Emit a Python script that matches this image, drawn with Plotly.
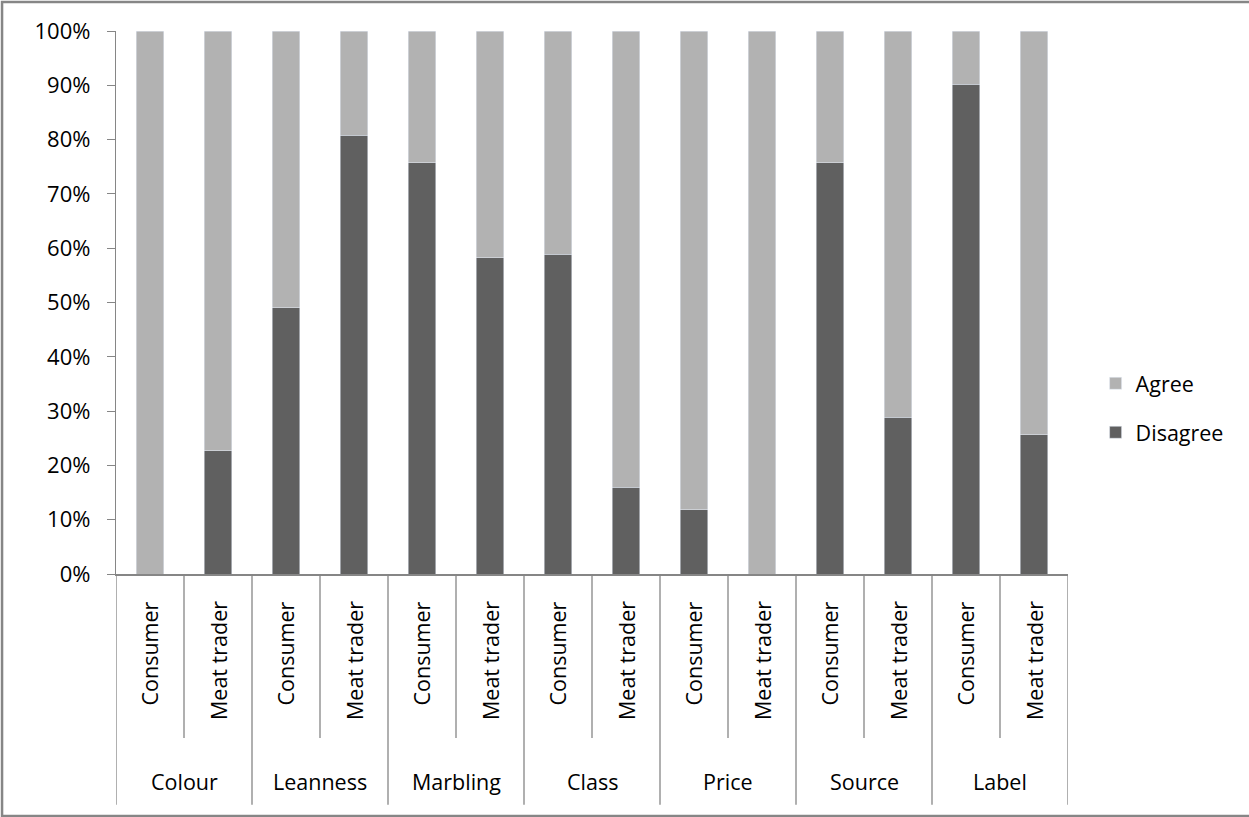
import plotly.graph_objects as go

# Attributes and respondent groups
attributes = ["Colour", "Leanness", "Marbling", "Class", "Price", "Source", "Label"]
respondents = ["Consumer", "Meat trader"]

# Share of respondents (%) per attribute, ordered Consumer, Meat trader
disagree = [0.0, 22.7, 49.0, 80.8, 75.7, 58.2, 58.9, 16.0, 11.8, 0.0, 75.7, 28.9, 90.2, 25.6]
agree = [round(100 - d, 1) for d in disagree]

y_ticks = [0, 10, 20, 30, 40, 50, 60, 70, 80, 90, 100]
y_tick_labels = [f"{t}%" for t in y_ticks]

AGREE_COLOR = "#b2b2b2"
DISAGREE_COLOR = "#606060"
LINE_COLOR = "#868686"
FONT = "Open Sans, Noto Sans, sans-serif"

n = len(attributes) * len(respondents)
xpos = list(range(n))
sub_labels = [r for _ in attributes for r in respondents]

fig = go.Figure()
fig.add_trace(go.Bar(x=xpos, y=disagree, name="Disagree", marker_color=DISAGREE_COLOR,
                     width=0.4, legendgroup="d", legendrank=2))
fig.add_trace(go.Bar(x=xpos, y=agree, name="Agree", marker_color=AGREE_COLOR,
                     width=0.4, legendgroup="a", legendrank=1))

shapes = []
annotations = []

# Category separators below the axis: short between respondents, long between attributes
for i in range(n + 1):
    boundary = i - 0.5
    long_line = (i % 2 == 0)
    shapes.append(dict(type="line", xref="x", yref="paper", x0=boundary, x1=boundary,
                       y0=0, y1=-0.425 if long_line else -0.302,
                       line=dict(color=LINE_COLOR, width=1.3)))

# Respondent labels, rotated
for i, lab in enumerate(sub_labels):
    annotations.append(dict(x=xpos[i], y=-0.047, xref="x", yref="paper", text=lab,
                            textangle=-90, showarrow=False, xanchor="center", yanchor="top",
                            font=dict(family=FONT, size=21.5, color="#000000")))

# Attribute labels
for g, name in enumerate(attributes):
    annotations.append(dict(x=2 * g + 0.5, y=-0.383, xref="x", yref="paper", text=name,
                            showarrow=False, xanchor="center", yanchor="middle",
                            font=dict(family=FONT, size=21.5, color="#000000")))

# Chart-area frame
shapes.append(dict(type="rect", xref="paper", yref="paper", x0=-0.1197, x1=1.21,
                   y0=-0.4457, y1=1.0534, line=dict(color=LINE_COLOR, width=2.5),
                   fillcolor="rgba(0,0,0,0)", layer="below"))

fig.update_layout(
    barmode="stack",
    width=1249, height=817,
    margin=dict(l=116, r=181, t=31, b=243),
    paper_bgcolor="white", plot_bgcolor="white",
    font=dict(family=FONT, size=20, color="#000000"),
    shapes=shapes,
    annotations=annotations,
    legend=dict(x=1.029, y=0.306, xanchor="left", yanchor="middle",
                traceorder="grouped", tracegroupgap=18,
                font=dict(family=FONT, size=21.5, color="#000000"),
                itemwidth=30),
    showlegend=True,
)
fig.update_xaxes(range=[-0.5, n - 0.5], showticklabels=False, showgrid=False,
                 zeroline=False, showline=True, linecolor=LINE_COLOR, linewidth=2,
                 ticks="", fixedrange=True)
fig.update_yaxes(range=[0, 100], tickvals=y_ticks, ticktext=y_tick_labels,
                 showgrid=False, zeroline=False, showline=True, linecolor=LINE_COLOR,
                 linewidth=1.3, ticks="outside", ticklen=8, tickcolor=LINE_COLOR,
                 tickfont=dict(family=FONT, size=22, color="#000000"), ticklabelstandoff=12)

fig.write_html("out.html")
